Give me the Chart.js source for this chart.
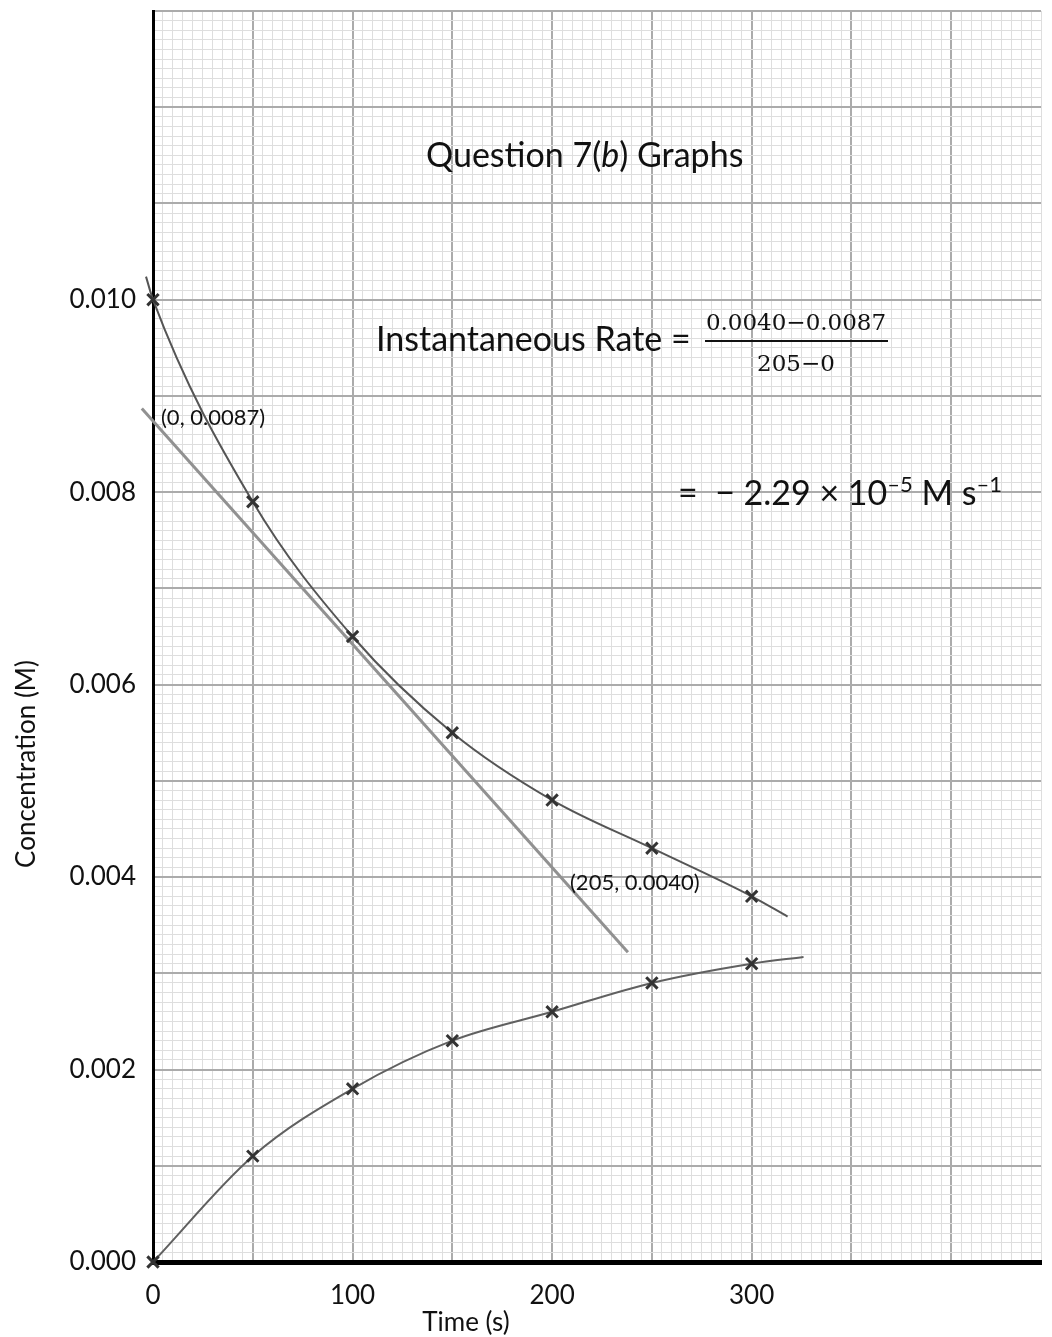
<!DOCTYPE html>
<html lang="en">
<head>
<meta charset="UTF-8">
<title>Question 7(b) Graphs</title>
<style>
    html, body {
        margin: 0;
        padding: 0;
        background: #fff;
    }
    .wrap {
        width: 1052px;
        height: 1337px;
        position: relative;
    }
</style>
<script src="https://cdn.jsdelivr.net/npm/chart.js"></script>
</head>
<body>
<div class="wrap"><canvas id="graph"></canvas></div>
<script>
    // readings, time in s
    const times = [0, 50, 100, 150, 200, 250, 300];
    // reactant concentration (M)
    const reactant = [0.0100, 0.0079, 0.0065, 0.0055, 0.0048, 0.0043, 0.0038];
    // product concentration (M)
    const product = [0.0000, 0.0011, 0.0018, 0.0023, 0.0026, 0.0029, 0.0031];

    // where the hand drawn curves run on past the first / last reading
    const reactantStart = [-3.5, 0.01024];
    const reactantEnd = [318, 0.00359];
    const productEnd = [326, 0.00317];

    // tangent drawn at t = 100 s (ends as drawn)
    const tangentX = [-5.6, 238];
    const tangentY = [0.00887, 0.00322];

    // labelled ticks
    const timeTicks = [0, 100, 200, 300];
    const concTicks = [0.000, 0.002, 0.004, 0.006, 0.008, 0.010];

    const sans = 'Lato, "Open Sans", sans-serif';
    const majorLine = '#ababab';
    const minorLine = '#dedede';

    const toPoints = (xs, ys) => xs.map((x, i) => ({ x: x, y: ys[i] }));
    const reactantCurve = [{ x: reactantStart[0], y: reactantStart[1] }]
        .concat(toPoints(times, reactant), [{ x: reactantEnd[0], y: reactantEnd[1] }]);
    const productCurve = toPoints(times, product).concat([{ x: productEnd[0], y: productEnd[1] }]);

    // draws a row of text pieces one after another
    function row(ctx, x, y, pieces) {
        pieces.forEach(p => {
            ctx.font = p[1];
            ctx.fillText(p[0], x, y + (p[2] || 0));
            x += ctx.measureText(p[0]).width;
        });
    }

    const notes = {
        id: 'notes',
        afterDraw(chart) {
            const ctx = chart.ctx;
            ctx.save();
            ctx.fillStyle = '#111';
            ctx.textBaseline = 'alphabetic';
            ctx.textAlign = 'left';

            row(ctx, 426, 167, [
                ['Question 7(', '34px ' + sans],
                ['b', 'italic 34px ' + sans],
                [') Graphs', '34px ' + sans]
            ]);
            row(ctx, 376, 351, [['Instantaneous Rate =', '34px ' + sans]]);

            ctx.font = '23px "DejaVu Serif", serif';
            ctx.textAlign = 'center';
            ctx.fillText('0.0040\u22120.0087', 796, 330);
            ctx.fillText('205\u22120', 796, 371);
            ctx.fillRect(705, 340, 183, 2);
            ctx.textAlign = 'left';

            row(ctx, 678, 505, [
                ['=  \u2212 2.29 \u00d7 10', '34px ' + sans],
                ['\u20135', '22px ' + sans, -13],
                [' M s', '34px ' + sans],
                ['\u20131', '22px ' + sans, -13]
            ]);

            ctx.font = '22px ' + sans;
            ctx.fillText('(0, 0.0087)', 161, 425);
            ctx.fillText('(205, 0.0040)', 570, 890);

            ctx.font = '26px ' + sans;
            ctx.textAlign = 'center';
            ctx.fillText('Time (s)', 466, 1331);
            ctx.translate(35, 764);
            ctx.rotate(-Math.PI / 2);
            ctx.fillText('Concentration (M)', 0, 0);
            ctx.restore();
        }
    };

    new Chart(document.getElementById('graph'), {
        type: 'scatter',
        data: {
            datasets: [
                {
                    label: 'Reactant readings',
                    data: toPoints(times, reactant),
                    pointStyle: 'crossRot',
                    pointRadius: 8,
                    pointBorderWidth: 3,
                    pointBorderColor: '#333',
                    clip: false
                },
                {
                    label: 'Product readings',
                    data: toPoints(times, product),
                    pointStyle: 'crossRot',
                    pointRadius: 8,
                    pointBorderWidth: 3,
                    pointBorderColor: '#333',
                    clip: false
                },
                {
                    label: 'Reactant curve',
                    data: reactantCurve,
                    showLine: true,
                    cubicInterpolationMode: 'monotone',
                    borderColor: '#555',
                    borderWidth: 2,
                    pointRadius: 0,
                    clip: false
                },
                {
                    label: 'Product curve',
                    data: productCurve,
                    showLine: true,
                    cubicInterpolationMode: 'monotone',
                    borderColor: '#606060',
                    borderWidth: 2,
                    pointRadius: 0,
                    clip: false
                },
                {
                    label: 'Tangent',
                    data: toPoints(tangentX, tangentY),
                    showLine: true,
                    borderColor: '#919191',
                    borderWidth: 3,
                    pointRadius: 0,
                    clip: false
                }
            ]
        },
        options: {
            responsive: true,
            maintainAspectRatio: false,
            animation: false,
            layout: { padding: { top: 11, right: 0, bottom: 0, left: 0 } },
            plugins: {
                legend: { display: false },
                tooltip: { enabled: false }
            },
            scales: {
                x: {
                    type: 'linear',
                    min: 0,
                    max: 445,
                    afterFit(scale) {
                        scale.height = 75;
                        scale.paddingLeft = 0;
                        scale.paddingRight = 0;
                    },
                    ticks: {
                        stepSize: 5,
                        autoSkip: false,
                        maxRotation: 0,
                        padding: 18,
                        color: '#111',
                        font: { family: sans, size: 26 },
                        callback: v => timeTicks.includes(Math.round(v)) && Math.abs(v - Math.round(v)) < 1e-6 ? String(Math.round(v)) : ''
                    },
                    grid: {
                        drawTicks: false,
                        color: c => c.tick && Math.round(c.tick.value) % 50 === 0 ? majorLine : minorLine,
                        lineWidth: c => c.tick && Math.round(c.tick.value) % 50 === 0 ? 2 : 1
                    },
                    border: { display: true, color: '#000', width: 5 }
                },
                y: {
                    type: 'linear',
                    min: 0,
                    max: 0.013,
                    afterFit(scale) {
                        scale.width = 153;
                        scale.paddingTop = 0;
                        scale.paddingBottom = 0;
                    },
                    ticks: {
                        stepSize: 0.0001,
                        autoSkip: false,
                        padding: 17,
                        color: '#111',
                        font: { family: sans, size: 26 },
                        callback: v => concTicks.some(t => Math.abs(t - v) < 1e-7) ? v.toFixed(3) : ''
                    },
                    grid: {
                        drawTicks: false,
                        color: c => c.tick && Math.round(c.tick.value * 10000) % 10 === 0 ? majorLine : minorLine,
                        lineWidth: c => c.tick && Math.round(c.tick.value * 10000) % 10 === 0 ? 2 : 1
                    },
                    border: { display: true, color: '#000', width: 3 }
                }
            }
        },
        plugins: [notes]
    });
</script>
</body>
</html>
